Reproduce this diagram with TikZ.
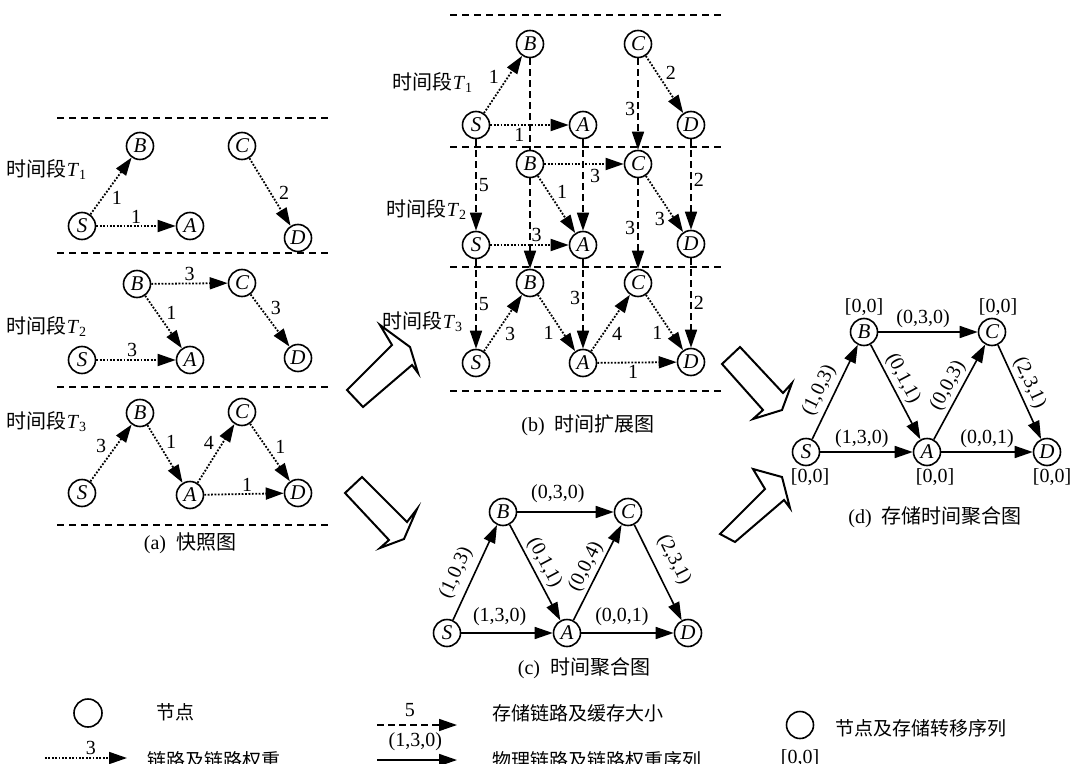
\documentclass[tikz,border=0pt]{standalone}
\usepackage{fontspec}
\setmainfont{Liberation Serif}
\newfontfamily\cjk{Noto Sans CJK SC}
\usetikzlibrary{arrows.meta,positioning}
\newcommand{\periodo}[1]{{\cjk 时间段}\textit{T}\textsubscript{#1}}
\tikzset{
  nodo/.style={circle,draw,line width=0.8pt,minimum size=13.5pt,inner sep=0pt,
    font=\fontsize{10.5}{12}\selectfont\itshape},
  enlace/.style={line width=0.9pt,dash pattern=on 0.9pt off 0.8pt,
    -{Triangle[length=9pt,width=6pt]}},
  almacen/.style={line width=0.8pt,dash pattern=on 3.5pt off 2pt,
    -{Triangle[length=9pt,width=6pt]}},
  fisico/.style={line width=0.8pt,-{Triangle[length=9pt,width=6pt]}},
  separa/.style={line width=0.8pt,dash pattern=on 3.5pt off 2.5pt},
  peso/.style={font=\fontsize{10}{12}\selectfont,inner sep=1pt},
  texto/.style={font=\cjk\fontsize{9.5}{11}\selectfont,inner sep=1pt},
  periodotxt/.style={font=\fontsize{10}{12}\selectfont,inner sep=1pt},
  bloque/.style={draw,line width=1pt,line join=miter},
}
\begin{document}
\begin{tikzpicture}[x=0.5pt,y=-0.5pt]
  \useasboundingbox (0,0) rectangle (1074,764);
  % (a) Grafo de instantaneas
  \begin{scope}
    \draw[separa] (57,118) -- (330,118);
    \draw[separa] (57,253) -- (330,253);
    \draw[separa] (57,387) -- (330,387);
    \draw[separa] (57,525) -- (330,525);
    \node[periodotxt] (aT1) at (47,170) {\periodo{1}};
    \node[periodotxt] (aT2) at (47,327) {\periodo{2}};
    \node[periodotxt] (aT3) at (47,422) {\periodo{3}};
    % periodo 1
    \node[nodo] (aB1) at (140,146) {B};
    \node[nodo] (aC1) at (242,146) {C};
    \node[nodo] (aS1) at (82,226) {S};
    \node[nodo] (aA1) at (190,226) {A};
    \node[nodo] (aD1) at (298,238) {D};
    \draw[enlace] (aS1) -- node[peso,pos=.45,below right] {1} (aB1);
    \draw[enlace] (aS1) -- node[peso,pos=.5,above=0pt] {1} (aA1);
    \draw[enlace] (aC1) -- node[peso,pos=.65,above right] {2} (aD1);
    % periodo 2
    \node[nodo] (aB2) at (137,284) {B};
    \node[nodo] (aC2) at (242,283) {C};
    \node[nodo] (aS2) at (82,360) {S};
    \node[nodo] (aA2) at (190,360) {A};
    \node[nodo] (aD2) at (298,358) {D};
    \draw[enlace] (aB2) -- node[peso,pos=.5,above=0pt] {3} (aC2);
    \draw[enlace] (aS2) -- node[peso,pos=.45,above=0pt] {3} (aA2);
    \draw[enlace] (aB2) -- node[peso,pos=.5,above right] {1} (aA2);
    \draw[enlace] (aC2) -- node[peso,pos=.45,above right] {3} (aD2);
    % periodo 3
    \node[nodo] (aB3) at (140,413) {B};
    \node[nodo] (aC3) at (242,412) {C};
    \node[nodo] (aS3) at (82,493) {S};
    \node[nodo] (aA3) at (190,495) {A};
    \node[nodo] (aD3) at (298,493) {D};
    \draw[enlace] (aS3) -- node[peso,pos=.45,above left] {3} (aB3);
    \draw[enlace] (aB3) -- node[peso,pos=.45,above right] {1} (aA3);
    \draw[enlace] (aA3) -- node[peso,pos=.52,above left] {4} (aC3);
    \draw[enlace] (aC3) -- node[peso,pos=.56,above right] {1} (aD3);
    \draw[enlace] (aA3) -- node[peso,pos=.54,above=0pt] {1} (aD3);
    \node[peso] (capA) at (190,543) {(a)\hspace{0.5em}{\cjk 快照图}};
  \end{scope}
  % (b) Grafo expandido en el tiempo
  \begin{scope}
    \draw[separa] (450,15) -- (723,15);
    \draw[separa] (450,147) -- (723,147);
    \draw[separa] (450,267) -- (723,267);
    \draw[separa] (450,391) -- (723,391);
    \node[periodotxt] (bT1) at (433,83) {\periodo{1}};
    \node[periodotxt] (bT2) at (427,210) {\periodo{2}};
    \node[periodotxt] (bT3) at (423,322) {\periodo{3}};
    \node[nodo] (bB1) at (530,44) {B};
    \node[nodo] (bC1) at (638,44) {C};
    \node[nodo] (bS1) at (476,125) {S};
    \node[nodo] (bA1) at (583,125) {A};
    \node[nodo] (bD1) at (691,125) {D};
    \node[nodo] (bB2) at (530,164) {B};
    \node[nodo] (bC2) at (638,164) {C};
    \node[nodo] (bS2) at (476,245) {S};
    \node[nodo] (bA2) at (583,245) {A};
    \node[nodo] (bD2) at (691,244) {D};
    \node[nodo] (bB3) at (530,283) {B};
    \node[nodo] (bC3) at (638,283) {C};
    \node[nodo] (bS3) at (476,363) {S};
    \node[nodo] (bA3) at (583,363) {A};
    \node[nodo] (bD3) at (691,362) {D};
    % enlaces de almacenamiento
    \draw[almacen] (bS1) -- node[peso,pos=.5,right=0pt] {5} (bS2);
    \draw[almacen] (bS2) -- node[peso,pos=.5,right=0pt] {5} (bS3);
    \draw[almacen,-] (bB1) -- (bB2);
    \draw[almacen] (bB2) -- (bB3);
    \draw[almacen] (bA1) -- (bA2);
    \draw[almacen] (bA2) -- node[peso,pos=.43,left=0pt] {3} (bA3);
    \draw[almacen] (bC1) -- node[peso,pos=.55,left=0pt] {3} (bC2);
    \draw[almacen] (bC2) -- node[peso,pos=.55,left=0pt] {3} (bC3);
    \draw[almacen] (bD1) -- node[peso,pos=.45,right=0pt] {2} (bD2);
    \draw[almacen] (bD2) -- node[peso,pos=.5,right=0pt] {2} (bD3);
    % enlaces de cada periodo
    \draw[enlace] (bS1) -- node[peso,pos=.47,above left] {1} (bB1);
    \draw[enlace] (bS1) -- node[peso,pos=.37,below=0pt] {1} (bA1);
    \draw[enlace] (bC1) -- node[peso,pos=.46,above right] {2} (bD1);
    \draw[enlace] (bB2) -- node[peso,pos=.64,below=1pt] {3} (bC2);
    \draw[enlace] (bB2) -- node[peso,pos=.44,above right] {1} (bA2);
    \draw[enlace] (bC2) -- node[peso,pos=.59,below left] {3} (bD2);
    \draw[enlace] (bS2) -- node[peso,pos=.59,above=0pt] {3} (bA2);
    \draw[enlace] (bS3) -- node[peso,pos=.48,below right] {3} (bB3);
    \draw[enlace] (bB3) -- node[peso,pos=.5,below left] {1} (bA3);
    \draw[enlace] (bA3) -- node[peso,pos=.47,below right] {4} (bC3);
    \draw[enlace] (bC3) -- node[peso,pos=.52,below left] {1} (bD3);
    \draw[enlace] (bA3) -- node[peso,pos=.45,below=0pt] {1} (bD3);
    \node[peso] (capB) at (588,425) {(b)\hspace{0.5em}{\cjk 时间扩展图}};
  \end{scope}
  % (c) Grafo agregado en el tiempo
  \begin{scope}
    \node[nodo] (cB) at (503,512) {B};
    \node[nodo] (cC) at (628,512) {C};
    \node[nodo] (cS) at (447,633) {S};
    \node[nodo] (cA) at (567,633) {A};
    \node[nodo] (cD) at (688,633) {D};
    \draw[fisico] (cB) -- node[peso,pos=.42,above=3pt] {(0,3,0)} (cC);
    \draw[fisico] (cS) -- node[peso,pos=.42,above=2pt] {(1,3,0)} (cA);
    \draw[fisico] (cA) -- node[peso,pos=.44,above=2pt] {(0,0,1)} (cD);
    \draw[fisico] (cS) -- node[peso,pos=.42,sloped,above=2.5pt] {(1,0,3)} (cB);
    \draw[fisico] (cB) -- node[peso,pos=.46,sloped,above=0.5pt] {(0,1,1)} (cA);
    \draw[fisico] (cA) -- node[peso,pos=.5,sloped,above=0.5pt] {(0,0,4)} (cC);
    \draw[fisico] (cC) -- node[peso,pos=.46,sloped,above=4pt] {(2,3,1)} (cD);
    \node[peso] (capC) at (584,668) {(c)\hspace{0.5em}{\cjk 时间聚合图}};
  \end{scope}
  % (d) Grafo agregado con almacenamiento
  \begin{scope}
    \node[nodo] (dB) at (864,332) {B};
    \node[nodo] (dC) at (992,332) {C};
    \node[nodo] (dS) at (806,452) {S};
    \node[nodo] (dA) at (927,452) {A};
    \node[nodo] (dD) at (1047,452) {D};
    \node[peso,above=0pt of dB] (dBs) {[0,0]};
    \node[peso,above=0pt of dC,xshift=3pt] (dCs) {[0,0]};
    \node[peso,below=0pt of dS,xshift=2pt] (dSs) {[0,0]};
    \node[peso,below=0pt of dA,xshift=4pt] (dAs) {[0,0]};
    \node[peso,below=0pt of dD,xshift=2.5pt] (dDs) {[0,0]};
    \draw[fisico] (dB) -- node[peso,pos=.45,above=0.5pt] {(0,3,0)} (dC);
    \draw[fisico] (dS) -- node[peso,pos=.45,above=0.5pt] {(1,3,0)} (dA);
    \draw[fisico] (dA) -- node[peso,pos=.5,above=0.5pt] {(0,0,1)} (dD);
    \draw[fisico] (dS) -- node[peso,pos=.45,sloped,above=1.5pt] {(1,0,3)} (dB);
    \draw[fisico] (dB) -- node[peso,pos=.42,sloped,above=0.5pt] {(0,1,1)} (dA);
    \draw[fisico] (dA) -- node[peso,pos=.5,sloped,above=0.5pt] {(0,0,3)} (dC);
    \draw[fisico] (dC) -- node[peso,pos=.46,sloped,above=0.5pt] {(2,3,1)} (dD);
    \node[peso] (capD) at (935,517) {(d)\hspace{0.5em}{\cjk 存储时间聚合图}};
  \end{scope}
  % Flechas de bloque
  \draw[bloque] (347,390) -- (392,345) -- (380,325) -- (410,347) -- (418,373)
    -- (412,365) -- (363,407) -- cycle;
  \draw[bloque] (345,493) -- (362,477) -- (407,522) -- (417,509) -- (404,539)
    -- (380,548) -- (389,540) -- cycle;
  \draw[bloque] (722,364) -- (740,347) -- (783,393) -- (792,383) -- (782,410)
    -- (753,419) -- (763,410) -- cycle;
  \draw[bloque] (720,534) -- (765,489) -- (753,469) -- (782,477) -- (790,508)
    -- (784,500) -- (735,542) -- cycle;
  % Leyenda
  \node[nodo,minimum size=14pt] (lgN) at (88,713) {};
  \node[texto] (lgNt) at (175,712) {节点};
  \coordinate (lgE1) at (45,758);
  \coordinate (lgE2) at (127,758);
  \draw[enlace] (lgE1) -- node[peso,pos=.56,above=0pt] {3} (lgE2);
  \node[texto,anchor=west] (lgEt) at (145,760) {链路及链路权重};
  \coordinate (lgM1) at (377,725);
  \coordinate (lgM2) at (457,725);
  \draw[almacen] (lgM1) -- node[peso,pos=.41,above=3pt] {5} (lgM2);
  \node[texto,anchor=west] (lgMt) at (490,713) {存储链路及缓存大小};
  \coordinate (lgF1) at (377,760);
  \coordinate (lgF2) at (457,760);
  \draw[fisico] (lgF1) -- node[peso,pos=.48,above=3pt] {(1,3,0)} (lgF2);
  \node[texto,anchor=west] (lgFt) at (490,760) {物理链路及链路权重序列};
  \node[nodo] (lgS) at (800,725) {};
  \node[peso,below=4pt of lgS] (lgSs) {[0,0]};
  \node[texto,anchor=west] (lgSt) at (833,728) {节点及存储转移序列};
\end{tikzpicture}
\end{document}
